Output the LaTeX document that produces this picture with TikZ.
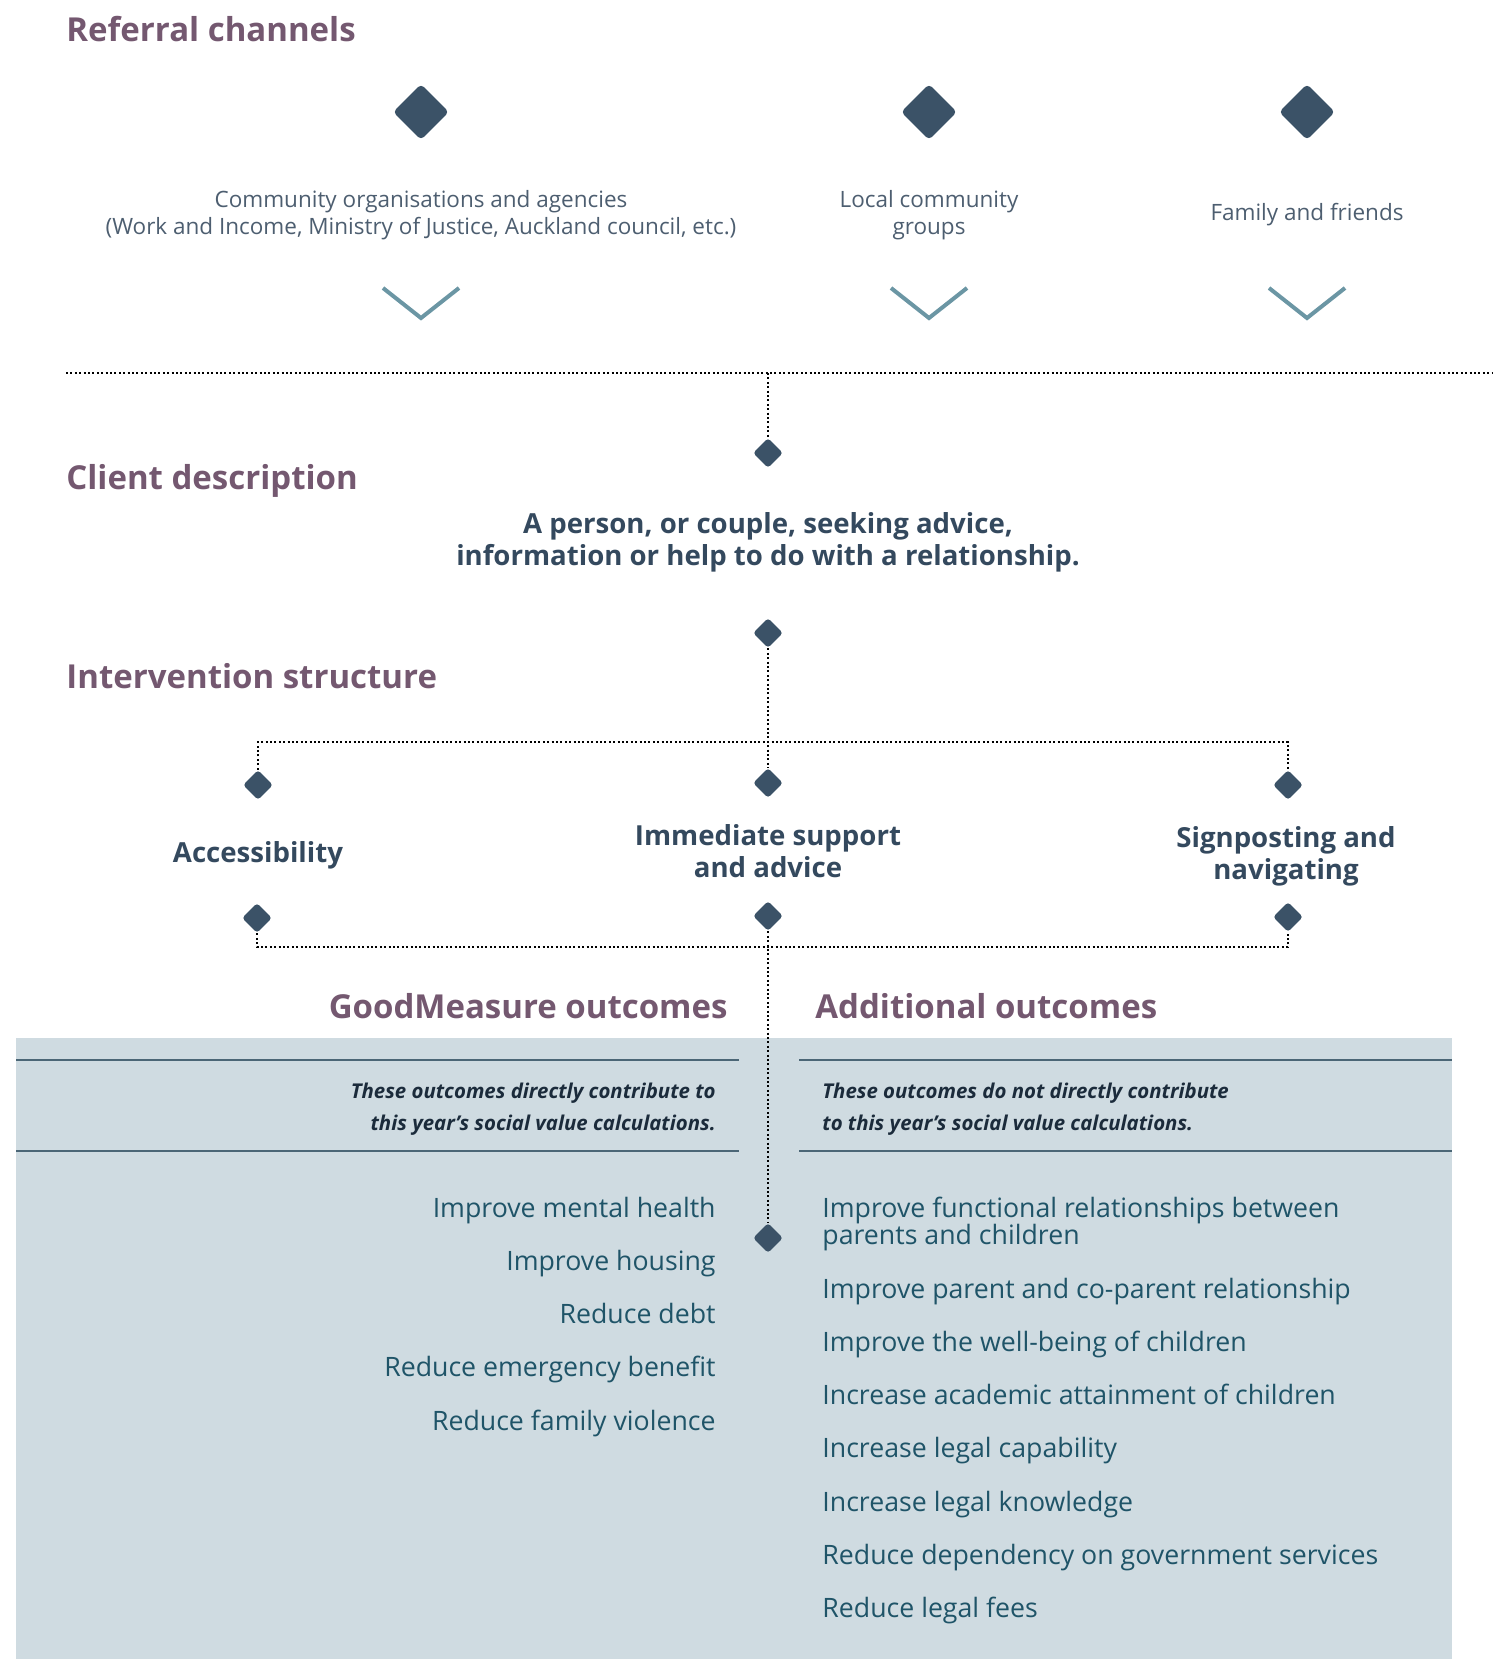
\documentclass[tikz,border=0pt]{standalone}
\usepackage{fontspec}
\setmainfont{Open Sans}
\usetikzlibrary{shapes.geometric,positioning}

\definecolor{headc}{HTML}{745870}
\definecolor{diac}{HTML}{3B5267}
\definecolor{refc}{HTML}{4D5E70}
\definecolor{chevc}{HTML}{6B96A4}
\definecolor{bodyc}{HTML}{34495E}
\definecolor{panelc}{HTML}{CFDBE1}
\definecolor{outc}{HTML}{1F5468}
\definecolor{notec}{HTML}{1B2B3B}
\definecolor{rulec}{HTML}{4B6676}

\tikzset{
  header/.style={font=\fontsize{16.5}{20}\selectfont\bfseries, text=headc, inner sep=0pt},
  bigdia/.style={diamond, fill=diac, rounded corners=2pt, inner sep=0pt, minimum width=28pt, minimum height=28pt},
  smalldia/.style={diamond, fill=diac, rounded corners=1.5pt, inner sep=0pt, minimum width=15pt, minimum height=15pt},
  channel/.style={font=\fontsize{11.25}{13.8}\selectfont, text=refc, align=center, inner sep=0pt},
  strong/.style={font=\fontsize{13.8}{16}\selectfont\bfseries, text=bodyc, align=center, inner sep=0pt},
  note/.style={font=\fontsize{10.2}{15.9}\selectfont\bfseries\itshape, text=notec, inner sep=0pt},
  outcome/.style={font=\fontsize{13.35}{13.5}\selectfont, text=outc, inner sep=0pt},
  chev/.style={draw=chevc, line width=2pt},
  dotline/.style={line width=1.1pt, dash pattern=on 1pt off 1.2pt},
  panelrule/.style={draw=rulec, line width=0.75pt},
}

\begin{document}
\begin{tikzpicture}[x=0.5pt, y=-0.5pt]

    \useasboundingbox (0,0) rectangle (1493,1659);
    \fill[panelc] (16,1038) rectangle (1452,1659);

    % Headings
    \node[header, anchor=base west]  (hRef)   at (66,42)    {Referral channels};
    \node[header, anchor=base west]  (hCli)   at (66,489)   {Client description};
    \node[header, anchor=base west]  (hInt)   at (66,688)   {Intervention structure};
    \node[header, anchor=base east]  (hGood)  at (728,1018)  {GoodMeasure outcomes};
    \node[header, anchor=base west]  (hAdd)   at (815,1018)  {Additional outcomes};

    % Referral channels
    \node[bigdia]                    (d1)     at (421,112)  {};
    \node[bigdia]                    (d2)     at (929,112)  {};
    \node[bigdia]                    (d3)     at (1307,112) {};
    \node[channel]                   (agency) at (421,215)  {Community organisations and agencies\\(Work and Income, Ministry of Justice, Auckland council, etc.)};
    \node[channel]                   (local)  at (929,215)  {Local community\\groups};
    \node[channel]                   (family) at (1307,215) {Family and friends};
    \foreach \d in {d1,d2,d3}
      \draw[chev] (\d) ++(-38,176) -- ++(38,30) -- ++(38,-30);

    \coordinate (hl)  at (66,373);
    \coordinate (hr)  at (1493,373);
    \coordinate (hub) at (768,373);

    % Client
    \node[smalldia]                  (c1)     at (768,453)  {};
    \node[strong]                    (client) at (768,542)  {A person, or couple, seeking advice,\\information or help to do with a relationship.};
    \node[smalldia]                  (c2)     at (768,633)  {};

    % Intervention
    \coordinate (jt) at (768,742);
    \node[smalldia]                  (tAcc)   at (258,785)  {};
    \node[smalldia]                  (tImm)   at (768,783)  {};
    \node[smalldia]                  (tSig)   at (1288,785) {};
    \node[strong]                    (acc)    at (258,855)  {Accessibility};
    \node[strong]                    (imm)    at (768,851)  {Immediate support\\and advice};
    \node[strong]                    (sig)    at (1286,856) {Signposting and\\navigating};
    \node[smalldia]                  (bAcc)   at (257,918)  {};
    \node[smalldia]                  (bImm)   at (768,916)  {};
    \node[smalldia]                  (bSig)   at (1288,917) {};
    \coordinate (jb) at (768,947);
    \node[smalldia]                  (g)      at (768,1238) {};

    % Outcome panels
    \draw[panelrule] (16,1060) -- (739,1060);
    \draw[panelrule] (16,1151) -- (739,1151);
    \draw[panelrule] (799,1060) -- (1452,1060);
    \draw[panelrule] (799,1151) -- (1452,1151);

    \node[note, align=right, anchor=east] (nGood) at (716,1109) {These outcomes directly contribute to\\this year’s social value calculations.};
    \node[note, align=left, anchor=west]  (nAdd)  at (822,1109) {These outcomes do not directly contribute\\to this year’s social value calculations.};

    \foreach \t [count=\i from 0] in {Improve mental health, Improve housing, Reduce debt,
        Reduce emergency benefit, Reduce family violence}
      \node[outcome, anchor=base east] (gm\i) at (716,1217+53.3*\i) {\t};

    \node[outcome, align=left, anchor=west] (ad0) at (822,1224) {Improve functional relationships between\\parents and children};
    \foreach \t [count=\i] in {Improve parent and co-parent relationship, Improve the well-being of children,
        Increase academic attainment of children, Increase legal capability, Increase legal knowledge,
        Reduce dependency on government services, Reduce legal fees}
      \node[outcome, anchor=base west] (ad\i) at (822,1244.7+53.3*\i) {\t};

    % Connect the nodes
    \draw[dotline] (hl) -- (hr);
    \draw[dotline] (hub) -- (c1);
    \draw[dotline] (c2) -- (jt) -- (tImm);
    \draw[dotline] (tAcc) |- (jt) -| (tSig);
    \draw[dotline] (bAcc) |- (jb) -| (bSig);
    \draw[dotline] (bImm) -- (jb) -- (g);

\end{tikzpicture}
\end{document}
